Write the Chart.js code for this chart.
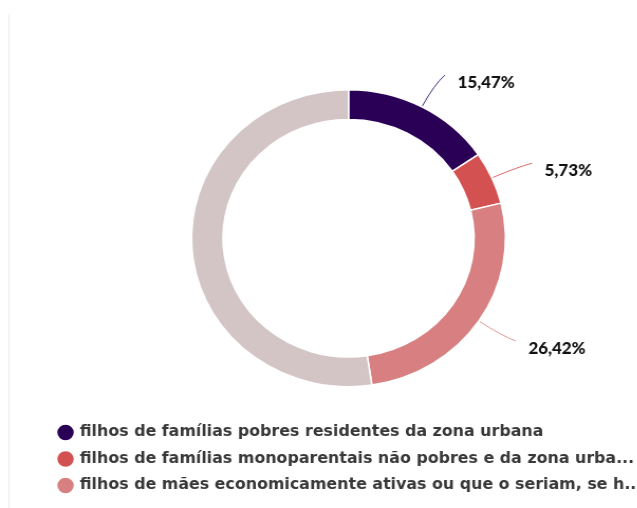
<!DOCTYPE html>
<html>
<head>
<meta charset="utf-8">
<script src="https://cdn.jsdelivr.net/npm/chart.js@4.4.0/dist/chart.umd.min.js"></script>
<style>
  html, body { margin: 0; padding: 0; background: #fff; overflow: hidden; }
  .frame { position: absolute; left: 8px; top: 14px; bottom: 0; border-left: 2px solid #f4f4f4; }
  /* source image is a little wider than tall, so the canvas is stretched horizontally */
  #chart { position: absolute; left: 0; top: 0; width: 650px !important; height: 508px !important; }
</style>
</head>
<body>
<div class="frame"></div>
<canvas id="chart" width="615" height="508"></canvas>
<script>
// Data for the doughnut
const categories = [
  'filhos de famílias pobres residentes da zona urbana',
  'filhos de famílias monoparentais não pobres e da zona urba...',
  'filhos de mães economicamente ativas ou que o seriam, se h...',
  'outros'
];
const shares = [15.47, 5.73, 26.42, 52.38];
const valueLabels = ['15,47%', '5,73%', '26,42%', ''];
const colors = ['#2a0056', '#d45151', '#d88081', '#d3c5c5'];
const lineColors = ['#4b2a80', '#e06a6a', '#e09a9a', '#d3c5c5'];

// Leader lines and percentage labels outside the ring
const leaderLabels = {
  id: 'leaderLabels',
  afterDatasetsDraw(chart) {
    const ctx = chart.ctx;
    const arcs = chart.getDatasetMeta(0).data;
    ctx.save();
    arcs.forEach((arc, i) => {
      if (!valueLabels[i]) return;
      const p = arc.getProps(['x', 'y', 'startAngle', 'endAngle', 'outerRadius'], true);
      const mid = (p.startAngle + p.endAngle) / 2;
      const cos = Math.cos(mid), sin = Math.sin(mid);
      const sx = p.x + cos * (p.outerRadius + 1), sy = p.y + sin * (p.outerRadius + 1);
      const cx = p.x + cos * (p.outerRadius + 26), cy = p.y + sin * (p.outerRadius + 26);
      const ex = p.x + cos * (p.outerRadius + 36) + 5, ey = p.y + sin * (p.outerRadius + 36);
      ctx.strokeStyle = lineColors[i];
      ctx.lineWidth = 1;
      ctx.beginPath();
      ctx.moveTo(sx, sy);
      ctx.quadraticCurveTo(cx, cy, ex, ey);
      ctx.stroke();
      ctx.font = '900 16px Lato';
      ctx.fillStyle = '#111';
      ctx.textAlign = 'left';
      ctx.textBaseline = 'middle';
      ctx.fillText(valueLabels[i], ex + 12, ey + 8);
    });
    ctx.restore();
  }
};

Chart.defaults.font.family = 'Lato';

const chart = new Chart(document.getElementById('chart'), {
  type: 'doughnut',
  data: {
    labels: categories,
    datasets: [{
      data: shares,
      backgroundColor: colors,
      borderColor: '#fff',
      borderWidth: 1.5
    }]
  },
  options: {
    responsive: false,
    animation: false,
    radius: 148.5,
    cutout: '80%',
    layout: { padding: { top: 63, left: 44.5, right: 0, bottom: 5 } },
    plugins: {
      tooltip: { enabled: false },
      legend: {
        position: 'bottom',
        align: 'start',
        labels: {
          usePointStyle: true,
          pointStyle: 'circle',
          boxWidth: 12,
          boxHeight: 12,
          padding: 11.5,
          color: '#383838',
          font: { family: 'DejaVu Sans', size: 15, weight: 'bold' },
          filter: (item) => item.index < 3
        }
      }
    }
  },
  plugins: [leaderLabels]
});
</script>
</body>
</html>
